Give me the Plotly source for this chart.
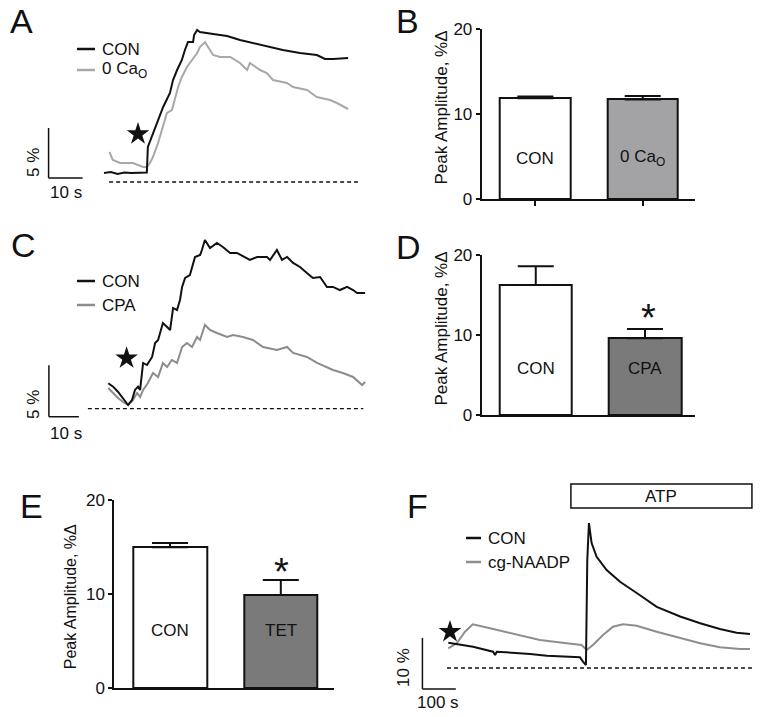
import plotly.graph_objects as go

W, H = 762, 717
FONT = "Arial, Liberation Sans, sans-serif"

# ---------------- DATA ----------------
# Panel A: % change vs time (s)
A_con_t = [0, 2, 4, 6, 8, 10, 12.6, 12.9, 14.4, 15.6, 17.4, 19.4, 20.3, 21.5, 22.9, 23.8, 24.7, 26.2, 26.5,
           27.4, 28.2, 32.1, 36.2, 40.0, 43.8, 47.9, 52.6, 57.6, 62.6, 65.0, 67.4, 71.8]
A_con_v = [0.9, 1.0, 0.8, 0.95, 0.9, 0.9, 0.95, 3.5, 4.9, 6.0, 7.5, 8.9, 10.2, 11.2, 12.2, 13.2, 14.0, 14.0, 14.7,
           15.2, 15.0, 14.8, 14.6, 14.2, 13.9, 13.5, 13.2, 12.9, 12.7, 12.3, 12.3, 12.4]
A_cao_t = [1.6, 2.6, 4.7, 8.5, 11.5, 12.6, 13.5, 14.4, 15.9, 17.4, 18.5, 20.0, 20.9, 21.8, 22.9, 24.4, 25.9, 27.4,
           28.2, 29.7, 30.6, 32.1, 34.1, 37.1, 40.0, 42.1, 42.9, 45.9, 47.9, 49.7, 53.8, 55.6, 59.7, 62.6, 66.5,
           68.5, 71.8]
A_cao_v = [3.0, 2.2, 1.9, 1.9, 1.5, 1.5, 1.9, 2.5, 3.9, 5.5, 6.9, 7.2, 8.5, 9.5, 10.5, 11.5, 12.2, 12.9,
           13.5, 14.0, 13.5, 12.7, 12.5, 12.5, 11.9, 11.2, 11.9, 11.2, 10.9, 10.2, 9.9, 9.5, 9.2, 8.5, 8.2,
           7.9, 7.3]

# Panel C
C_con_t = [0.1, 1.7, 3.3, 5.0, 6.7, 8.0, 9.0, 10.0, 10.7, 11.7, 13.0, 14.7, 15.7, 16.7, 18.3, 19.7, 20.7, 21.7,
           23.0, 24.0, 24.7, 25.7, 27.3, 29.0, 30.7, 31.3, 32.3, 34.0, 36.3, 38.3, 40.7, 43.0, 47.3, 49.7, 53.0,
           54.0, 56.3, 58.0, 59.7, 61.7, 64.0, 66.3, 68.3, 70.7, 73.0, 75.0, 77.3, 79.7, 81.7, 83.0, 85.7]
C_con_v = [2.47, 2.14, 1.65, 1.04, 0.36, 0.84, 1.82, 2.14, 1.82, 4.44, 4.24, 5.02, 6.38, 6.67, 8.32, 7.93, 7.64,
           9.78, 9.58, 10.55, 11.82, 12.69, 12.98, 14.73, 14.92, 15.41, 16.38, 15.6, 16.09, 15.7, 15.12, 15.12,
           14.44, 14.73, 14.73, 14.44, 15.41, 14.44, 14.73, 14.15, 13.76, 13.17, 12.69, 12.79, 11.82, 11.82,
           11.52, 11.82, 11.52, 11.23, 11.23]
C_cpa_t = [0.1, 3.0, 5.0, 6.7, 8.3, 9.7, 10.7, 11.7, 13.3, 15.0, 16.7, 18.3, 19.7, 21.3, 23.0, 24.7, 26.3, 28.0,
           29.7, 30.7, 32.3, 34.0, 36.3, 39.7, 41.7, 45.0, 48.3, 51.7, 56.3, 59.7, 61.7, 66.3, 69.7, 73.0, 75.0,
           78.3, 81.7, 84.7, 85.7]
C_cpa_v = [2.01, 1.14, 0.65, 0.36, 0.84, 1.52, 1.14, 1.82, 2.5, 3.47, 3.08, 4.44, 4.05, 4.73, 4.44, 5.99, 6.38,
           5.99, 6.96, 6.67, 8.13, 7.64, 7.35, 6.96, 7.16, 6.96, 6.67, 5.99, 5.70, 5.99, 5.41, 5.02, 4.44, 4.05,
           3.76, 3.47, 3.08, 2.30, 2.59]

# Panel F
F_con_t = [1, 26, 75, 135, 141, 146, 195, 246, 296, 344, 395, 404, 413, 417, 422, 430, 445, 475, 515, 565,
           625, 695, 755, 814, 864, 904]
F_con_v = [4.96, 4.71, 4.18, 3.2, 2.55, 3.2, 3.0, 2.75, 2.41, 2.22, 2.1, 1.24, 0.59, 21.2, 28.4, 24.5, 21.8,
           19.2, 16.9, 14.7, 12.0, 10.1, 8.76, 7.65, 6.92, 6.67]
F_ng_t = [1, 26, 51, 74, 126, 195, 275, 355, 400, 415, 434, 464, 494, 524, 565, 625, 695, 755, 814, 874, 904]
F_ng_v = [3.86, 4.84, 7.12, 8.57, 7.78, 6.67, 5.49, 4.84, 4.51, 3.53, 4.51, 6.47, 8.1, 8.57, 8.29, 7.12,
          5.82, 4.84, 4.06, 3.73, 3.73]

# Bar panels (mean, +SEM)
B_labels = ["CON", "0 Ca<sub>O</sub>"]
B_mean = [11.85, 11.72]
B_err = [0.2, 0.4]
D_labels = ["CON", "CPA"]
D_mean = [16.25, 9.6]
D_err = [2.35, 1.15]
E_labels = ["CON", "TET"]
E_mean = [14.97, 9.9]
E_err = [0.45, 1.6]

# ---------------- LAYOUT HELPERS ----------------
def dx(a, b):
    return [a / W, b / W]

def dy(top, bottom):
    return [1 - bottom / H, 1 - top / H]

def px(x, y):
    return x / W, 1 - y / H

fig = go.Figure()

BLACK = "#111111"

def add_line(t, v, color, ax):
    fig.add_trace(go.Scatter(x=t, y=v, mode="lines", line=dict(color=color, width=2),
                             xaxis="x" + ax, yaxis="y" + ax, showlegend=False, hoverinfo="skip"))

def trace_axes(ax, xdom, ydom, x0px, sx, y0px, sy):
    xr = [(xdom[0] - x0px) / sx, (xdom[1] - x0px) / sx]
    yr = [(y0px - ydom[1]) / sy, (y0px - ydom[0]) / sy]
    fig.update_layout(**{
        "xaxis" + ax: dict(domain=dx(*xdom), range=xr, visible=False, anchor="y" + ax),
        "yaxis" + ax: dict(domain=dy(*ydom), range=yr, visible=False, anchor="x" + ax),
    })

trace_axes("", (20, 380), (10, 205), 104, 3.4, 182, 10.0)
trace_axes("3", (20, 380), (225, 445), 108, 3.0, 408.7, 10.3)
trace_axes("6", (395, 762), (480, 717), 448, 0.334, 668, 5.1)

add_line(A_cao_t, A_cao_v, "#a8a8a8", "")
add_line(A_con_t, A_con_v, BLACK, "")
add_line(C_cpa_t, C_cpa_v, "#8c8c8c", "3")
add_line(C_con_t, C_con_v, BLACK, "3")
add_line(F_ng_t, F_ng_v, "#8e8e8e", "6")
add_line(F_con_t, F_con_v, BLACK, "6")

shapes = []
annotations = []

def text(t, x, y, size=17, xref="paper", yref="paper", xanchor="center", angle=0):
    annotations.append(dict(text=t, x=x, y=y, xref=xref, yref=yref, showarrow=False, textangle=angle,
                            font=dict(size=size, family=FONT, color=BLACK),
                            xanchor=xanchor, yanchor="middle"))

def dline(ax, x0, x1):
    shapes.append(dict(type="line", xref="x" + ax, yref="y" + ax, x0=x0, x1=x1, y0=0, y1=0,
                       line=dict(color=BLACK, width=1.3, dash="4px,3px")))

dline("", 1.5, 74.7)
dline("3", -6.7, 85.1)
dline("6", -3, 910)

def scalebar(ax, t0, v0, dt, dv, tlabel, vlabel, tl_px, vl_px):
    shapes.append(dict(type="line", xref="x" + ax, yref="y" + ax, x0=t0, x1=t0, y0=v0, y1=v0 + dv,
                       line=dict(color=BLACK, width=1.5)))
    shapes.append(dict(type="line", xref="x" + ax, yref="y" + ax, x0=t0, x1=t0 + dt, y0=v0, y1=v0,
                       line=dict(color=BLACK, width=1.5)))
    text(tlabel, *px(*tl_px))
    text(vlabel, *px(*vl_px), angle=-90)

scalebar("", -16.3, 0.4, 10, 5, "10 s", "5 %", (66, 192), (33, 163))
scalebar("3", -19.7, -0.78, 10, 5, "10 s", "5 %", (66, 433), (33, 405))
scalebar("6", -76.6, -4.1, 100, 10, "100 s", "10 %", (438, 702), (403, 668))

# stimulus stars
STARS = [("", 10, 4.8), ("3", 6.2, 4.9), ("6", 6, 7.1)]
for ax, t, v in STARS:
    fig.add_trace(go.Scatter(x=[t], y=[v], mode="markers", xaxis="x" + ax, yaxis="y" + ax,
                             marker=dict(symbol="star", size=17, color=BLACK, line=dict(width=0)),
                             showlegend=False, hoverinfo="skip"))

def legend(x_seg, y1, y2, t1, t2, c2):
    for yy, col, txt in [(y1, BLACK, t1), (y2, c2, t2)]:
        a = px(x_seg[0], yy)
        b = px(x_seg[1], yy)
        shapes.append(dict(type="line", xref="paper", yref="paper", x0=a[0], x1=b[0], y0=a[1], y1=a[1],
                           line=dict(color=col, width=2.5)))
        text(txt, *px(x_seg[1] + 5, yy), xanchor="left")

legend((77, 95), 49, 70, "CON", "0 Ca<sub>O</sub>", "#a8a8a8")
legend((77, 95), 281, 305, "CON", "CPA", "#8c8c8c")
legend((466, 481), 538, 562, "CON", "cg-NAADP", "#8e8e8e")

# ATP box
ATP_START, ATP_END = 368, 910
y0 = 1 - 508 / H
y1 = 1 - 484 / H
shapes.append(dict(type="rect", xref="x6", yref="paper", x0=ATP_START, x1=ATP_END, y0=y0, y1=y1,
                   line=dict(color=BLACK, width=1.5), fillcolor="white"))
text("ATP", (ATP_START + ATP_END) / 2, (y0 + y1) / 2, xref="x6")

# ---------------- BAR PANELS ----------------
def bar_panel(ax, labels, means, errs, colors, xdom, ydom, bw, xr, xticks, title_px, title_size, text_y, star_px):
    fig.add_trace(go.Bar(x=[0, 1], y=means, width=bw, xaxis="x" + ax, yaxis="y" + ax,
                         marker=dict(color=colors, line=dict(color=BLACK, width=2)),
                         error_y=dict(type="data", array=errs, arrayminus=[0, 0], symmetric=False,
                                      color=BLACK, thickness=2, width=18),
                         showlegend=False, hoverinfo="skip"))
    fig.update_layout(**{
        "xaxis" + ax: dict(domain=dx(*xdom), range=xr, anchor="y" + ax, showline=True, linecolor=BLACK,
                           linewidth=2, showgrid=False, zeroline=False, tickvals=[0, 1],
                           ticks="outside" if xticks else "", ticklen=5, tickwidth=2, tickcolor=BLACK,
                           showticklabels=False),
        "yaxis" + ax: dict(domain=dy(*ydom), range=[0, 20], anchor="x" + ax, showline=True, linecolor=BLACK,
                           linewidth=2, showgrid=False, zeroline=False, tickvals=[0, 10, 20],
                           ticks="outside", ticklen=4, tickwidth=2, tickcolor=BLACK,
                           tickfont=dict(size=17, family=FONT, color=BLACK)),
    })
    text("Peak Amplitude, %Δ", *px(*title_px), size=title_size, angle=-90)
    for i, lab in enumerate(labels):
        text(lab, i, 1 - text_y / H, xref="x" + ax)
    if star_px:
        text("*", *px(*star_px), size=38)

bar_panel("2", B_labels, B_mean, B_err, ["white", "#a3a3a6"], (481.7, 695), (29, 199), 0.656,
          [-0.5, 1.487], True, (441.5, 108), 17, 158, None)
bar_panel("4", D_labels, D_mean, D_err, ["white", "#7a7a7a"], (481.7, 695), (255, 415), 0.664,
          [-0.495, 1.458], False, (441.5, 329), 17, 368, (648, 318))
bar_panel("5", E_labels, E_mean, E_err, ["white", "#7a7a7a"], (114.3, 334.3), (500, 688.3), 0.666,
          [-0.503, 1.483], False, (70.7, 596.5), 16, 630, (281, 572))

for lab, (x, y) in [("A", (21.5, 21)), ("B", (407.5, 21)), ("C", (23.5, 245)), ("D", (408, 247)),
                    ("E", (31, 505.5)), ("F", (418, 505.5))]:
    text(lab, *px(x, y), size=34)

fig.update_layout(width=W, height=H, margin=dict(l=0, r=0, t=0, b=0, autoexpand=False), plot_bgcolor="white",
                  paper_bgcolor="white", shapes=shapes, annotations=annotations, bargap=0)

fig.write_html("out.html", config={"responsive": False, "displayModeBar": False},
               post_script="document.body.style.margin='0';document.body.style.overflow='hidden';")
